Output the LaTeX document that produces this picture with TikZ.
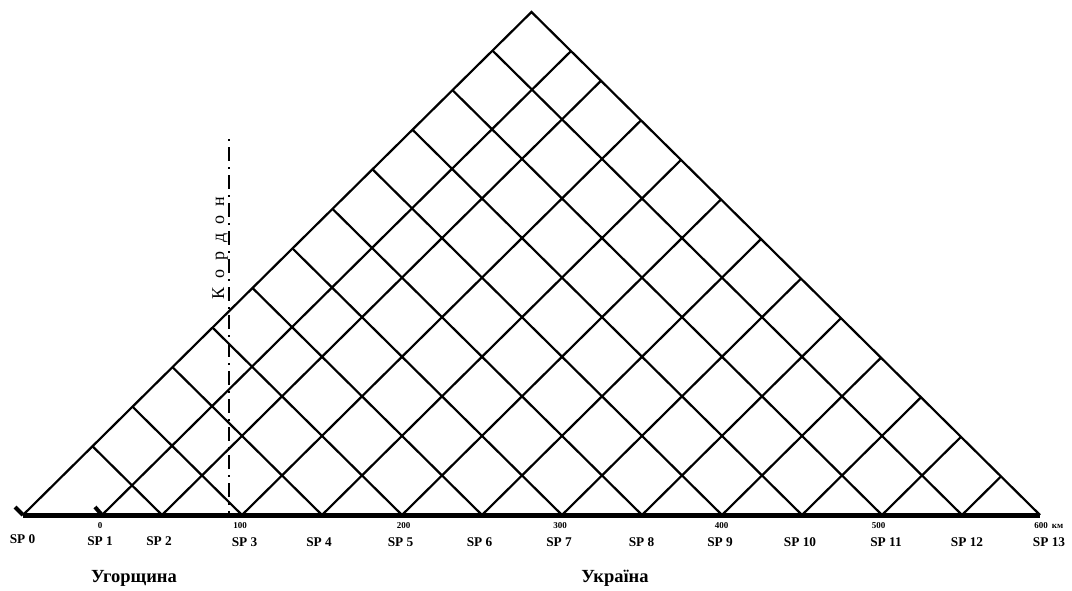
\documentclass[tikz,border=0pt]{standalone}
\usepackage{fontspec}
\setmainfont{Liberation Serif}
\newfontfamily\kfont{Liberation Serif}[WordSpace=2]
\usetikzlibrary{calc}
\begin{document}
\begin{tikzpicture}[x=1pt,y=-1pt,
  grid/.style={line width=2.2pt},
  sp/.style={anchor=base,font=\bfseries\fontsize{13.3}{13.3}\selectfont},
  km/.style={anchor=base,font=\bfseries\fontsize{9}{9}\selectfont},
  country/.style={anchor=base,font=\bfseries\fontsize{18.5}{18.5}\selectfont}]
\useasboundingbox (0,0) rectangle (1072,590);
\coordinate (L) at (23,515);
\coordinate (R) at (1040,515);
\coordinate (A) at (531.5,12);
% grid
\draw[grid,line join=miter] (L) -- (A) -- (R);
\foreach \a in {162,242,...,962} {
  \coordinate (b\a) at (\a,515);
  \draw[grid] (b\a) -- ($(R)!{(1040-\a)/1017}!(A)$);
  \draw[grid] (b\a) -- ($(L)!{(\a-23)/1017}!(A)$);
}
\coordinate (b102) at (102,515);
\draw[grid] (b102) -- ($(R)!{938/1017}!(A)$);
% base line and ticks
\draw[line width=5pt] (L) -- (R);
\coordinate (t0) at (15,507);
\coordinate (t1) at (95,507);
\draw[line width=4pt] (t0) -- (L);
\draw[line width=4pt] (t1) -- (b102);
% cordon
\coordinate (k1) at (229,139);
\coordinate (k2) at (229,515);
\draw[line width=1.8pt,dash pattern=on 2pt off 6pt on 14pt off 6pt] (k1) -- (k2);
\node[rotate=90,anchor=base west,inner sep=0pt,font=\kfont\fontsize{18}{18}\selectfont] (kord) at (224,300) {К о р д о н};
% SP labels
\foreach \x/\t/\y [count=\i] in {22.5/SP 0/543,100/SP 1/545,159/SP 2/545,244.5/SP 3/546,319/SP 4/546,400.5/SP 5/546,479.5/SP 6/546,559/SP 7/546,641.5/SP 8/546,720/SP 9/546,800/SP 10/546,886/SP 11/546,967/SP 12/546,1049/SP 13/546}
  \node[sp] (sp\i) at (\x,\y) {\t};
% km labels
\node[km] (k0) at (100,528) {0};
\node[km] (k100) at (240,528) {100};
\node[km] (k200) at (403.5,528) {200};
\node[km] (k300) at (560,528) {300};
\node[km] (k400) at (721.5,528) {400};
\node[km] (k500) at (878.5,528) {500};
\node[km] (k600) at (1041,528) {600};
\node[km] (kkm) at (1057.5,528) {км};
% countries
\node[country] (hu) at (134,582) {Угорщина};
\node[country] (ua) at (615,582) {Україна};
\end{tikzpicture}
\end{document}
